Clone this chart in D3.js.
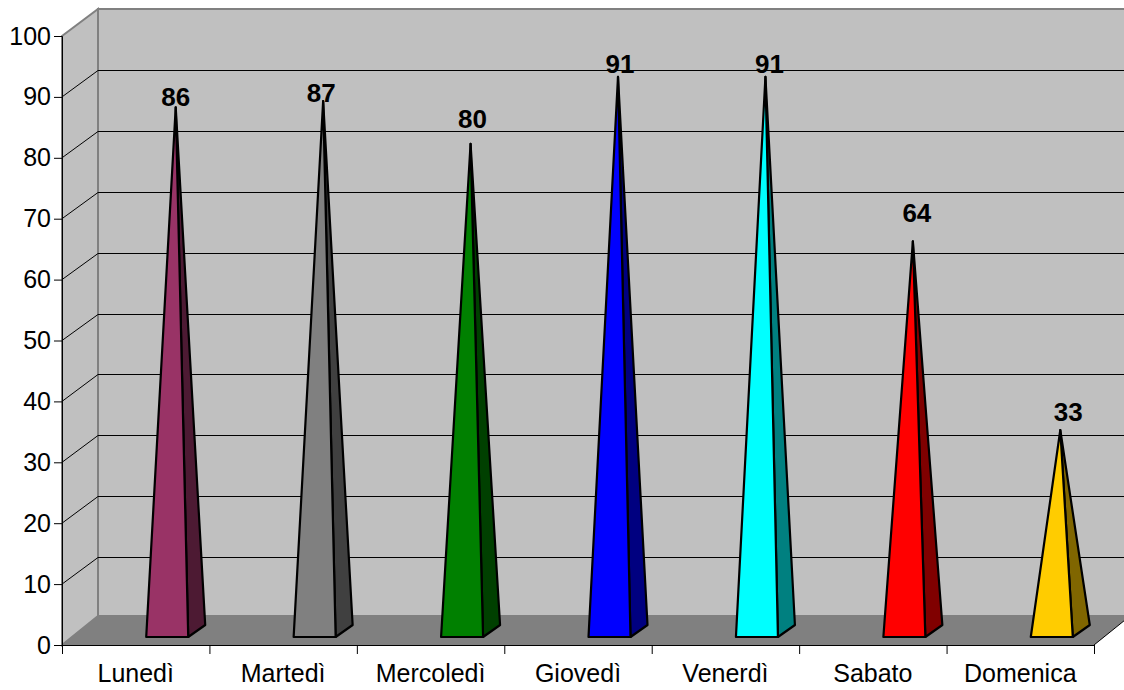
<!DOCTYPE html>
<html>
<head>
<meta charset="utf-8">
<title>Settimana</title>
<script src="https://cdn.jsdelivr.net/npm/d3@7/dist/d3.min.js"></script>
<style>
  html, body { margin: 0; padding: 0; background: #fff; }
  svg { display: block; }
  text { font-family: "Liberation Sans", Arial, sans-serif; fill: #000; }
</style>
</head>
<body>
<div id="chart"></div>
<script>
var days = ["Lunedì", "Martedì", "Mercoledì", "Giovedì", "Venerdì", "Sabato", "Domenica"];
var values = [86, 87, 80, 91, 91, 64, 33];
var frontColors = ["#993366", "#808080", "#008000", "#0000ff", "#00ffff", "#ff0000", "#ffcc00"];
var sideColors = ["#4d1a33", "#404040", "#004000", "#000080", "#008080", "#800000", "#806600"];
var yTicks = [0, 10, 20, 30, 40, 50, 60, 70, 80, 90, 100];

// data labels do not sit evenly over the tips in the original
var labelGaps = [-1, -3, 14, 2, 2, 17, 7];
var labelShifts = [0, -2, 2, 2, 4, 4, 8];

var w = 1124, h = 690;
var left = 62, right = 1094, y0 = 645, y100 = 36;
var depthX = 36, depthTop = 27, depthFloor = 29;   // wall offset
var barShift = 31.5;               // pyramids sit right of the tick centre
var halfBase = 21, barDepthX = 17, barDepthY = 12, baseLift = 8;

var x = d3.scaleBand().domain(days).range([left, right]);
var y = d3.scaleLinear().domain([0, 100]).range([y0, y100]);

var svg = d3.select("#chart").append("svg").attr("width", w).attr("height", h);

var pts = function (a) { return a.map(function (p) { return p.join(","); }).join(" "); };
var backX = left + depthX, backTop = y(100) - depthTop, backBottom = y0 - depthFloor;

// back wall, side wall, floor
svg.append("polygon")
    .attr("points", pts([[backX, backTop], [w + 10, backTop], [w + 10, backBottom], [backX, backBottom]]))
    .attr("fill", "#c0c0c0").attr("stroke", "#808080").attr("stroke-width", 2);
svg.append("polygon")
    .attr("points", pts([[left, y(100)], [backX, backTop], [backX, backBottom], [left, y0]]))
    .attr("fill", "#c0c0c0").attr("stroke", "#808080").attr("stroke-width", 2);
svg.append("polygon")
    .attr("points", pts([[left, y0], [backX, backBottom], [right + depthX, backBottom], [right, y0]]))
    .attr("fill", "#808080");

// gridlines, bent round the side wall
svg.selectAll("polyline.grid")
    .data(yTicks.slice(1, -1))
    .enter().append("polyline")
    .attr("class", "grid")
    .attr("points", function (d) {
        var back = Math.round(y(d) - depthTop) + 0.5;
        return pts([[left, y(d)], [backX, back], [w, back]]);
    })
    .attr("fill", "none").attr("stroke", "#000").attr("stroke-width", 1);

// floor right edge
svg.append("line")
    .attr("x1", right).attr("y1", y0).attr("x2", right + depthX).attr("y2", backBottom)
    .attr("stroke", "#000").attr("stroke-width", 1);

// pyramids
var bars = svg.selectAll("g.bar").data(days).enter().append("g").attr("class", "bar")
    .attr("stroke", "#000").attr("stroke-width", 2.2).attr("stroke-linejoin", "round");

var baseY = y0 - baseLift;
var center = function (d) { return x(d) + x.bandwidth() / 2 + barShift; };
var apex = function (d, i) {
    return [center(d) + barDepthX / 2, y(values[i]) - baseLift - barDepthY / 2];
};

bars.append("polygon")
    .attr("points", function (d, i) {
        return pts([[center(d) + halfBase, baseY], [center(d) + halfBase + barDepthX, baseY - barDepthY], apex(d, i)]);
    })
    .attr("fill", function (d, i) { return sideColors[i]; });
bars.append("polygon")
    .attr("points", function (d, i) {
        return pts([[center(d) - halfBase, baseY], [center(d) + halfBase, baseY], apex(d, i)]);
    })
    .attr("fill", function (d, i) { return frontColors[i]; });

svg.selectAll("text.val").data(days).enter().append("text")
    .attr("class", "val")
    .attr("x", function (d, i) { return apex(d, i)[0] + labelShifts[i]; })
    .attr("y", function (d, i) { return apex(d, i)[1] - 2 - labelGaps[i]; })
    .attr("text-anchor", "middle")
    .style("font-size", "26px").style("font-weight", "bold")
    .text(function (d, i) { return values[i]; });

// axes
var yAxis = svg.append("g").attr("transform", "translate(" + left + ",0)")
    .call(d3.axisLeft(y).tickValues(yTicks).tickSize(8).tickPadding(3));
yAxis.selectAll("text").style("font-size", "25px");

var tickX = d3.scaleLinear().domain([0, days.length]).range([left, right]);
var xTicks = svg.append("g").attr("transform", "translate(0," + y0 + ")")
    .call(d3.axisBottom(tickX).tickValues(d3.range(days.length + 1)).tickSize(9).tickFormat(""));

var xAxis = svg.append("g").attr("transform", "translate(0," + y0 + ")")
    .call(d3.axisBottom(x).tickSize(0).tickPadding(19));
xAxis.select(".domain").remove();
xAxis.selectAll("text").style("font-size", "25px");

svg.selectAll(".tick line, .domain").attr("stroke", "#000");
</script>
</body>
</html>
